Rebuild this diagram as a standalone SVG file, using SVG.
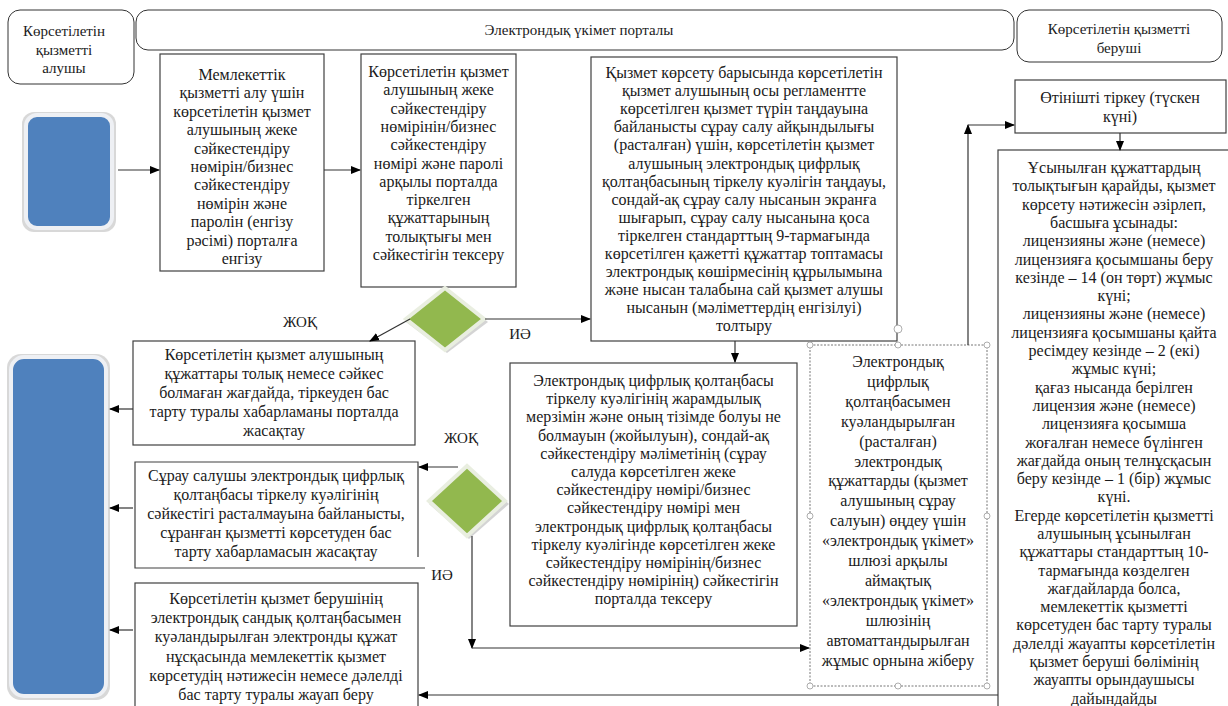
<svg xmlns="http://www.w3.org/2000/svg" width="1228" height="706" viewBox="0 0 1228 706" font-family="'Liberation Serif', 'DejaVu Serif', serif">
<defs>
<marker id="ah" markerWidth="10" markerHeight="10" refX="9" refY="5" orient="auto" markerUnits="userSpaceOnUse">
<path d="M0,1 L10,5 L0,9 Z" fill="#000"/>
</marker>
<style>
.hd{fill:#fff;stroke:#333;stroke-width:1}
.bx{fill:#fff;stroke:#404040;stroke-width:1.2}
text{font-family:'Liberation Serif','DejaVu Serif',serif}
.t{font-size:16px;fill:#1a1a1a;text-anchor:middle}
.th{font-size:15px;fill:#1a1a1a;text-anchor:middle}
.ln{fill:none;stroke:#333;stroke-width:1.2}
.blue{fill:#4F81BD;stroke:#eef0f4;stroke-width:4}
.dia{fill:#92B84E;stroke:#e9eee0;stroke-width:4}
.hdl{fill:#fff;stroke:#999;stroke-width:0.8}
</style>
</defs>
<rect width="1228" height="706" fill="#fff"/>

<g id="hdr-left">
<rect class="hd" x="8" y="10" width="126" height="74" rx="12"/>
<text class="th" x="64" y="36">Көрсетілетін</text>
<text class="th" x="64" y="55">қызметті</text>
<text class="th" x="64" y="73">алушы</text>
</g>
<g id="hdr-mid">
<rect class="hd" x="136" y="10" width="878" height="40" rx="12"/>
<text class="th" x="579" y="35">Электрондық үкімет порталы</text>
</g>
<g id="hdr-right">
<rect class="hd" x="1017" y="10" width="205" height="52" rx="12"/>
<text class="th" x="1119" y="34">Көрсетілетін қызметті</text>
<text class="th" x="1119" y="53">беруші</text>
</g>

<g id="client-top">
<rect x="22" y="112" width="94" height="120" rx="12" fill="#d8d8d8"/>
<rect class="blue" x="26" y="115" width="86" height="113" rx="11"/>
</g>
<g id="client-bottom">
<rect x="7" y="354" width="103" height="346" rx="14" fill="#d8d8d8"/>
<rect class="blue" x="11" y="357" width="95" height="339" rx="13"/>
</g>

<g id="box1">
<rect class="bx" x="160" y="54" width="164" height="217"/>
<text class="t"><tspan x="242" y="80">Мемлекеттік</tspan><tspan x="242" dy="18.4">қызметті алу үшін</tspan><tspan x="242" dy="18.4">көрсетілетін қызмет</tspan><tspan x="242" dy="18.4">алушының жеке</tspan><tspan x="242" dy="18.4">сәйкестендіру</tspan><tspan x="242" dy="18.4">нөмірін/бизнес</tspan><tspan x="242" dy="18.4">сәйкестендіру</tspan><tspan x="242" dy="18.4">нөмірін және</tspan><tspan x="242" dy="18.4">паролін (енгізу</tspan><tspan x="242" dy="18.4">рәсімі) порталға</tspan><tspan x="242" dy="18.4">енгізу</tspan></text>
</g>
<g id="box2">
<rect class="bx" x="361" y="54" width="155" height="233"/>
<text class="t"><tspan x="438.5" y="77">Көрсетілетін қызмет</tspan><tspan x="438.5" dy="18.3">алушының жеке</tspan><tspan x="438.5" dy="18.3">сәйкестендіру</tspan><tspan x="438.5" dy="18.3">нөмірінін/бизнес</tspan><tspan x="438.5" dy="18.3">сәйкестендіру</tspan><tspan x="438.5" dy="18.3">нөмірі және паролі</tspan><tspan x="438.5" dy="18.3">арқылы порталда</tspan><tspan x="438.5" dy="18.3">тіркелген</tspan><tspan x="438.5" dy="18.3">құжаттарының</tspan><tspan x="438.5" dy="18.3">толықтығы мен</tspan><tspan x="438.5" dy="18.3">сәйкестігін тексеру</tspan></text>
</g>
<g id="box3">
<rect class="bx" x="591" y="57" width="306" height="284"/>
<text class="t"><tspan x="744" y="78">Қызмет көрсету барысында көрсетілетін</tspan><tspan x="744" dy="18.1">қызмет алушының осы регламентте</tspan><tspan x="744" dy="18.1">көрсетілген қызмет түрін таңдауына</tspan><tspan x="744" dy="18.1">байланысты сұрау салу айқындылығы</tspan><tspan x="744" dy="18.1">(расталған) үшін, көрсетілетін қызмет</tspan><tspan x="744" dy="18.1">алушының электрондық цифрлық</tspan><tspan x="744" dy="18.1">қолтаңбасының тіркелу куәлігін таңдауы,</tspan><tspan x="744" dy="18.1">сондай-ақ сұрау салу нысанын экранға</tspan><tspan x="744" dy="18.1">шығарып, сұрау салу нысанына қоса</tspan><tspan x="744" dy="18.1">тіркелген стандарттың 9-тармағында</tspan><tspan x="744" dy="18.1">көрсетілген қажетті құжаттар топтамасы</tspan><tspan x="744" dy="18.1">электрондық көшірмесінің құрылымына</tspan><tspan x="744" dy="18.1">және нысан талабына сай қызмет алушы</tspan><tspan x="744" dy="18.1">нысанын (мәліметтердің енгізілуі)</tspan><tspan x="744" dy="18.1">толтыру</tspan></text>
</g>
<g id="box4">
<rect class="bx" x="133" y="341" width="282" height="104"/>
<text class="t"><tspan x="274" y="360">Көрсетілетін қызмет алушының</tspan><tspan x="274" dy="19">құжаттары толық немесе сәйкес</tspan><tspan x="274" dy="19">болмаған жағдайда, тіркеуден бас</tspan><tspan x="274" dy="19">тарту туралы хабарламаны порталда</tspan><tspan x="274" dy="19">жасақтау</tspan></text>
</g>
<g id="box5">
<rect class="bx" x="510" y="363" width="287" height="263"/>
<text class="t"><tspan x="653.5" y="386">Электрондық цифрлық қолтаңбасы</tspan><tspan x="653.5" dy="18.2">тіркелу куәлігінің жарамдылық</tspan><tspan x="653.5" dy="18.2">мерзімін және оның тізімде болуы не</tspan><tspan x="653.5" dy="18.2">болмауын (жойылуын), сондай-ақ</tspan><tspan x="653.5" dy="18.2">сәйкестендіру мәліметінің (сұрау</tspan><tspan x="653.5" dy="18.2">салуда көрсетілген жеке</tspan><tspan x="653.5" dy="18.2">сәйкестендіру нөмірі/бизнес</tspan><tspan x="653.5" dy="18.2">сәйкестендіру нөмірі мен</tspan><tspan x="653.5" dy="18.2">электрондық цифрлық қолтаңбасы</tspan><tspan x="653.5" dy="18.2">тіркелу куәлігінде көрсетілген жеке</tspan><tspan x="653.5" dy="18.2">сәйкестендіру нөмірінің/бизнес</tspan><tspan x="653.5" dy="18.2">сәйкестендіру нөмірінің) сәйкестігін</tspan><tspan x="653.5" dy="18.2">порталда тексеру</tspan></text>
</g>
<g id="box6">
<rect x="810" y="345" width="177" height="341" fill="#fff" stroke="#666" stroke-width="0.9" stroke-dasharray="2,1.5"/>
<text class="t"><tspan x="898" y="367">Электрондық</tspan><tspan x="898" dy="19.9">цифрлық</tspan><tspan x="898" dy="19.9">қолтаңбасымен</tspan><tspan x="898" dy="19.9">куәландырылған</tspan><tspan x="898" dy="19.9">(расталған)</tspan><tspan x="898" dy="19.9">электрондық</tspan><tspan x="898" dy="19.9">құжаттарды (қызмет</tspan><tspan x="898" dy="19.9">алушының сұрау</tspan><tspan x="898" dy="19.9">салуын) өңдеу үшін</tspan><tspan x="898" dy="19.9">«электрондық үкімет»</tspan><tspan x="898" dy="19.9">шлюзі арқылы</tspan><tspan x="898" dy="19.9">аймақтық</tspan><tspan x="898" dy="19.9">«электрондық үкімет»</tspan><tspan x="898" dy="19.9">шлюзінің</tspan><tspan x="898" dy="19.9">автоматтандырылған</tspan><tspan x="898" dy="19.9">жұмыс орнына жіберу</tspan></text>
<circle class="hdl" cx="810" cy="345" r="3"/><circle class="hdl" cx="898" cy="345" r="3"/><circle class="hdl" cx="987" cy="345" r="3"/>
<circle class="hdl" cx="810" cy="516" r="3"/><circle class="hdl" cx="987" cy="516" r="3"/>
<circle class="hdl" cx="810" cy="686" r="3"/><circle class="hdl" cx="898" cy="686" r="3"/><circle class="hdl" cx="987" cy="686" r="3"/>
<circle class="hdl" cx="898" cy="329" r="4"/>
<rect x="999" y="343" width="14" height="14" fill="#f4f8fc" stroke="#9bb7d8" stroke-width="0.8"/>
<path d="M1002,348 H1010 M1002,352 H1010 M1002,355 H1010" stroke="#5a86c0" stroke-width="0.8"/>
</g>
<g id="box7">
<path class="bx" d="M418,557 V462 H135 V568 H425"/>
<text class="t"><tspan x="276" y="481">Сұрау салушы электрондық цифрлық</tspan><tspan x="276" dy="19">қолтаңбасы тіркелу куәлігінің</tspan><tspan x="276" dy="19">сәйкестігі расталмауына байланысты,</tspan><tspan x="276" dy="19">сұранған қызметті көрсетуден бас</tspan><tspan x="276" dy="19">тарту хабарламасын жасақтау</tspan></text>
</g>
<g id="box8">
<rect class="bx" x="135" y="583" width="283" height="130"/>
<text class="t"><tspan x="276" y="604">Көрсетілетін қызмет берушінің</tspan><tspan x="276" dy="19.2">электрондық сандық қолтаңбасымен</tspan><tspan x="276" dy="19.2">куәландырылған электронды құжат</tspan><tspan x="276" dy="19.2">нұсқасында мемлекеттік қызмет</tspan><tspan x="276" dy="19.2">көрсетудің нәтижесін немесе дәлелді</tspan><tspan x="276" dy="19.2">бас тарту туралы жауап беру</tspan></text>
</g>
<g id="box-register">
<rect class="bx" x="1015" y="80" width="211" height="53"/>
<text class="t"><tspan x="1120" y="103">Өтінішті тіркеу (түскен</tspan><tspan x="1120" dy="19">күні)</tspan></text>
</g>
<g id="box-provider">
<rect class="bx" x="998" y="150" width="240" height="570"/>
<text class="t"><tspan x="1114" y="173">Ұсынылған құжаттардың</tspan><tspan x="1114" dy="18.3">толықтығын қарайды, қызмет</tspan><tspan x="1114" dy="18.3">көрсету нәтижесін әзірлеп,</tspan><tspan x="1114" dy="18.3">басшыға ұсынады:</tspan><tspan x="1114" dy="18.3">лицензияны және (немесе)</tspan><tspan x="1114" dy="18.3">лицензияға қосымшаны беру</tspan><tspan x="1114" dy="18.3">кезінде – 14 (он төрт) жұмыс</tspan><tspan x="1114" dy="18.3">күні;</tspan><tspan x="1114" dy="18.3">лицензияны және (немесе)</tspan><tspan x="1114" dy="18.3">лицензияға қосымшаны қайта</tspan><tspan x="1114" dy="18.3">ресімдеу кезінде – 2 (екі)</tspan><tspan x="1114" dy="18.3">жұмыс күні;</tspan><tspan x="1114" dy="18.3">қағаз нысанда берілген</tspan><tspan x="1114" dy="18.3">лицензия және (немесе)</tspan><tspan x="1114" dy="18.3">лицензияға қосымша</tspan><tspan x="1114" dy="18.3">жоғалған немесе бүлінген</tspan><tspan x="1114" dy="18.3">жағдайда оның телнұсқасын</tspan><tspan x="1114" dy="18.3">беру кезінде – 1 (бір) жұмыс</tspan><tspan x="1114" dy="18.3">күні.</tspan><tspan x="1114" dy="18.3">Егерде көрсетілетін қызметті</tspan><tspan x="1114" dy="18.3">алушының ұсынылған</tspan><tspan x="1114" dy="18.3">құжаттары стандарттың 10-</tspan><tspan x="1114" dy="18.3">тармағында көзделген</tspan><tspan x="1114" dy="18.3">жағдайларда болса,</tspan><tspan x="1114" dy="18.3">мемлекеттік қызметті</tspan><tspan x="1114" dy="18.3">көрсетуден бас тарту туралы</tspan><tspan x="1114" dy="18.3">дәлелді жауапты көрсетілетін</tspan><tspan x="1114" dy="18.3">қызмет беруші бөлімінің</tspan><tspan x="1114" dy="18.3">жауапты орындаушысы</tspan><tspan x="1114" dy="18.3">дайындайды</tspan></text>
</g>

<g id="decision1">
<polygon points="447,291 488,322 447,353 406,322" fill="#d4d4d4"/>
<polygon class="dia" points="445,288 484,319 445,350 406,319"/>
</g>
<g id="decision2">
<polygon points="469,469 509,504 469,539 429,504" fill="#d4d4d4"/>
<polygon class="dia" points="467,466 505,501 467,536 429,501"/>
</g>

<g id="connectors">
<line class="ln" x1="118" y1="170" x2="159" y2="170" marker-end="url(#ah)"/>
<line class="ln" x1="324" y1="170" x2="360" y2="170" marker-end="url(#ah)"/>
<line class="ln" x1="485" y1="319" x2="590" y2="319" marker-end="url(#ah)"/>
<line class="ln" x1="410" y1="319" x2="370" y2="341" marker-end="url(#ah)"/>
<line class="ln" x1="735" y1="341" x2="735" y2="362" marker-end="url(#ah)"/>
<line class="ln" x1="133" y1="409" x2="110" y2="409" marker-end="url(#ah)"/>
<line class="ln" x1="133" y1="508" x2="110" y2="508" marker-end="url(#ah)"/>
<line class="ln" x1="133" y1="630" x2="110" y2="630" marker-end="url(#ah)"/>
<line class="ln" x1="458" y1="467" x2="419" y2="467" marker-end="url(#ah)"/>
<line class="ln" x1="472" y1="536" x2="472" y2="648" marker-end="url(#ah)"/>
<line class="ln" x1="472" y1="648" x2="809" y2="648" marker-end="url(#ah)"/>
<line class="ln" x1="968" y1="345" x2="968" y2="125" marker-end="url(#ah)"/>
<line class="ln" x1="968" y1="125" x2="1014" y2="125" marker-end="url(#ah)"/>
<line class="ln" x1="1120" y1="133" x2="1120" y2="150" marker-end="url(#ah)"/>
<line class="ln" x1="998" y1="695" x2="419" y2="695" marker-end="url(#ah)"/>
</g>

<g id="labels">
<text class="th" x="300" y="327">ЖОҚ</text>
<text class="th" x="520" y="339">ИӘ</text>
<text class="th" x="461" y="443">ЖОҚ</text>
<text class="th" x="442" y="580">ИӘ</text>
</g>
</svg>
